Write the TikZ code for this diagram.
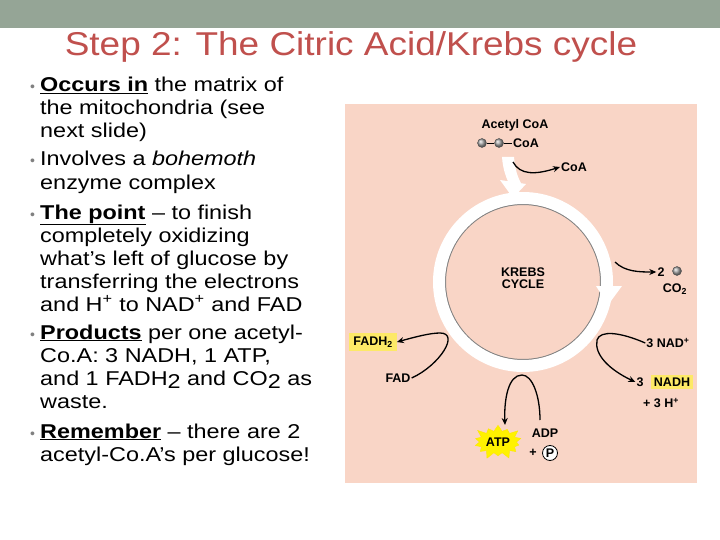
\documentclass[tikz,border=0pt]{standalone}
\usepackage{fontspec}
\setmainfont{Liberation Sans}
\usetikzlibrary{shapes.symbols,arrows.meta}
\definecolor{topbar}{HTML}{95A596}
\definecolor{titlec}{HTML}{C0504D}
\definecolor{panel}{HTML}{F9D5C6}
\definecolor{hl}{HTML}{FDE967}
\tikzset{
 body/.style={anchor=base west,inner sep=0pt,font=\fontsize{20}{20}\selectfont,xscale=1.17},
 bul/.style={anchor=base west,inner sep=0pt,font=\fontsize{14}{14}\selectfont,text=gray},
 lab/.style={inner sep=1pt,font=\bfseries\fontsize{12.5}{12.5}\selectfont},
 ball/.style={circle,inner sep=0pt,minimum size=9pt,draw=gray!60!black,ball color=gray!70},
 thin/.style={-{Stealth[length=7pt,width=6pt]},line width=1.3pt},
}
\newcommand{\ul}[1]{\underline{\textbf{#1}}}
\begin{document}
\begin{tikzpicture}[x=1pt,y=-1pt]
\useasboundingbox (0,0) rectangle (720,540);
\fill[white] (0,0) rectangle (720,540);
\fill[topbar] (0,0) rectangle (720,28);
\node[inner sep=0pt,text=titlec,font=\fontsize{33}{33}\selectfont,xscale=1.12] (title) at (351,47) {Step 2: The Citric Acid/Krebs cycle};
% bullets
\foreach \y in {92,166,219,339,438} \node[bul] at (30,\y) {•};
\node[body] (l1) at (40,92) {\ul{Occurs in} the matrix of};
\node[body] (l2) at (40,115) {the mitochondria (see};
\node[body] (l3) at (40,138) {next slide)};
\node[body] (l4) at (40,166) {Involves a \textit{bohemoth}};
\node[body] (l5) at (40,190) {enzyme complex};
\node[body] (l6) at (40,219) {\ul{The point} – to finish};
\node[body] (l7) at (40,242) {completely oxidizing};
\node[body] (l8) at (40,265) {what’s left of glucose by};
\node[body] (l9) at (40,288) {transferring the electrons};
\node[body] (l10) at (40,311) {and H\textsuperscript{+} to NAD\textsuperscript{+} and FAD};
\node[body] (l11) at (40,339) {\ul{Products} per one acetyl-};
\node[body] (l12) at (40,362) {Co.A: 3 NADH, 1 ATP,};
\node[body] (l13) at (40,385) {and 1 FADH\raisebox{-3pt}{2} and CO\raisebox{-3pt}{2} as};
\node[body] (l14) at (40,408) {waste.};
\node[body] (l15) at (40,438) {\ul{Remember} – there are 2};
\node[body] (l16) at (40,461) {acetyl-Co.A’s per glucose!};
% panel
\fill[panel] (345,104) rectangle (697,483);
% ring
\coordinate (c) at (523,282);
\draw[gray,line width=2pt] (c) circle (78);
\draw[white,line width=12pt] (c) circle (84);
\fill[white] (500,180) -- (526,184) -- (513,198) -- cycle;
\fill[white] (596,286) -- (622,286) -- (608,305) -- cycle;
\node[lab] (krebs) at (523,280) {\begin{tabular}{c}KREBS\\CYCLE\end{tabular}};
% acetyl coa
\node[lab] (acetyl) at (515,125) {Acetyl CoA};
\node[ball] (b1) at (482,143) {};
\node[ball] (b2) at (499,143) {};
\node[lab,anchor=west] (coa1) at (512,143) {CoA};
\draw (b1) -- (b2) -- (coa1);
\fill[white] (502,157) -- (514,157) .. controls (515,170) and (518,178) .. (522,185) -- (512,190) .. controls (506,178) and (503,170) .. (502,157) -- cycle;
\node[lab,anchor=west] (coa2) at (560,167) {CoA};
\coordinate (cs) at (513,162);
\draw[thin] (cs) .. controls (520,175) and (535,175) .. (coa2.west);
% CO2
\coordinate (co2s) at (615,262);
\node[lab] (two) at (661,272) {2};
\node[ball] (b3) at (677,271) {};
\node[lab] (co2) at (675,289) {CO\textsubscript{2}};
\draw[thin] (co2s) .. controls (625,272) and (640,272) .. (two.west);
% NAD
\node[lab] (nad) at (668,343) {3 NAD\textsuperscript{+}};
\node[lab] (three) at (640,382) {3};
\node[lab,fill=hl,inner sep=3pt] (nadh) at (672,382) {NADH};
\node[lab] (h) at (661,403) {+ 3 H\textsuperscript{+}};
\draw[thin] (nad.west) .. controls (620,332) and (600,330) .. (597,340) .. controls (594,355) and (610,370) .. (three.west);
% FAD
\node[lab,fill=hl,inner sep=4pt] (fadh) at (373,342) {FADH\textsubscript{2}};
\node[lab] (fad) at (398,378) {FAD};
\draw[thin] (fad.east) .. controls (440,365) and (460,333) .. (440,333) .. controls (430,333) and (415,337) .. (fadh.east);
% ATP
\node[starburst,fill=yellow,draw=yellow!90!orange,starburst point height=8pt,starburst points=14,minimum width=48pt,minimum height=38pt,inner sep=0pt,lab] (atp) at (498,442) {ATP};
\node[lab] (adp) at (545,433) {ADP};
\node[lab] (plus) at (533,453) {+};
\node[lab,circle,draw,fill=white,inner sep=1pt,minimum size=15pt,line width=0.8pt] (p) at (550,453) {P};
\draw[thin] (540,420) .. controls (540,395) and (532,375) .. (522,375) .. controls (508,375) and (504,400) .. (505,425);
\end{tikzpicture}
\end{document}
